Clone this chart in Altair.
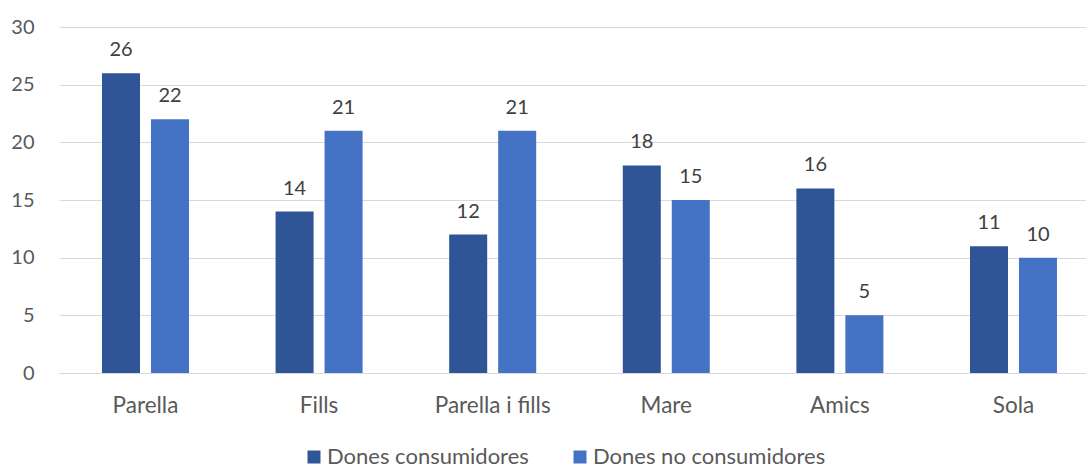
import altair as alt
import pandas as pd

categories = ["Parella", "Fills", "Parella i fills", "Mare", "Amics", "Sola"]
series = ["Dones consumidores", "Dones no consumidores"]
consumidores = [26, 14, 12, 18, 16, 11]
no_consumidores = [22, 21, 21, 15, 5, 10]
colors = ["#2F5597", "#4472C4"]
y_ticks = [0, 5, 10, 15, 20, 25, 30]

rows = []
for c, a, b in zip(categories, consumidores, no_consumidores):
    rows.append({"cat": c, "serie": series[0], "val": a})
    rows.append({"cat": c, "serie": series[1], "val": b})
df = pd.DataFrame(rows)

FONT = "Lato"

x = alt.X(
    "cat:N", sort=categories,
    scale=alt.Scale(paddingInner=0.4988, paddingOuter=0.2074, align=0.597),
    axis=alt.Axis(title=None, labelAngle=0, ticks=False, domainColor="#d9d9d9",
                  labelFont=FONT, labelFontSize=22.5, labelColor="#595959",
                  labelPadding=21, grid=False),
)
xo = alt.XOffset("serie:N", sort=series,
                 scale=alt.Scale(paddingInner=0.224, paddingOuter=0))
y = alt.Y(
    "val:Q", scale=alt.Scale(domain=[0, 30], nice=False),
    axis=alt.Axis(values=y_ticks, title=None, ticks=False, domain=False,
                  gridColor="#d9d9d9", gridWidth=1, labelFont=FONT,
                  labelFontSize=20, labelColor="#595959", labelPadding=25),
)
color = alt.Color(
    "serie:N", sort=series,
    scale=alt.Scale(domain=series, range=colors),
    legend=alt.Legend(orient="none", legendX=244, legendY=419, direction="horizontal",
                      title=None, symbolType="square", symbolSize=169,
                      symbolOpacity=1, symbolStrokeWidth=0, padding=0,
                      labelFont=FONT, labelFontSize=22, labelColor="#595959",
                      labelOffset=2, columnPadding=40, labelLimit=400),
)

bars = alt.Chart(df).mark_bar().encode(x=x, xOffset=xo, y=y, color=color)
labels = alt.Chart(df).mark_text(
    baseline="alphabetic", dy=-17, font=FONT, fontSize=20, color="#404040"
).encode(x=x, xOffset=xo, y=y, text="val:Q")

chart = alt.layer(bars, labels).properties(
    width=1027, height=346, autosize="none",
    padding={"left": 59, "top": 27, "right": 0, "bottom": 91},
    background="white",
).configure_view(stroke=None)

chart.save("out.html", embed_options={"renderer": "svg", "actions": False})
